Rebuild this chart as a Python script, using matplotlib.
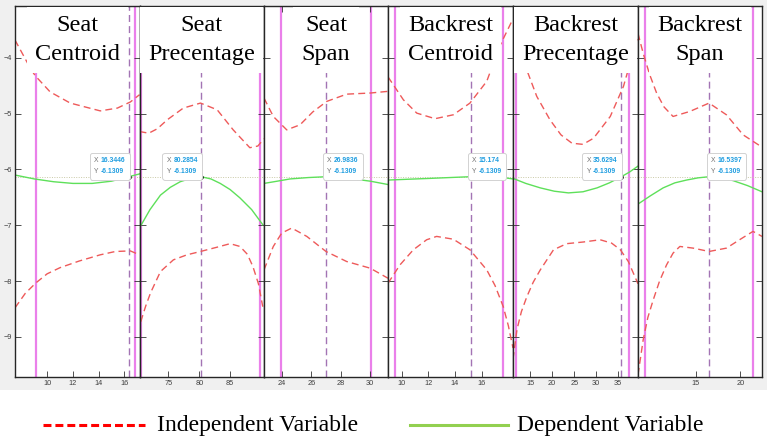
import matplotlib
matplotlib.use('Agg')
import matplotlib.pyplot as plt
from matplotlib.lines import Line2D
from matplotlib.patches import Rectangle
from matplotlib.offsetbox import TextArea, HPacker, VPacker, AnnotationBbox

# ---------------- data ----------------
titles = ["Seat\nCentroid", "Seat\nPrecentage", "Seat\nSpan",
          "Backrest\nCentroid", "Backrest\nPrecentage", "Backrest\nSpan"]
x_current = [16.3446, 80.2854, 26.9836, 15.174, 35.6294, 16.5397]
y_current = -6.1309
bound_lo = [9.15, 70.6, 23.97, 9.52, 11.8, 9.4]
bound_hi = [16.84, 89.9, 30.05, 17.62, 37.5, 21.4]
x_limits = [(7.5, 17.17), (70.3, 90.5), (22.8, 31.2), (8.97, 18.35), (11.1, 39.5), (8.6, 22.4)]
x_ticks = [[10, 12, 14, 16], [75, 80, 85], [24, 26, 28, 30], [10, 12, 14, 16],
           [15, 20, 25, 30, 35], [15, 20]]
y_ticks = [-9, -8, -7, -6, -5, -4]
y_limits = (-9.72, -3.07)
tip_side = ["left", "left", "right", "right", "left", "right"]

p1_up_x = [7.5, 8.68, 9.07, 10.23, 11.79, 14.12, 15.45, 16.46, 17.17]
p1_up_y = [-3.68, -4.18, -4.32, -4.61, -4.81, -4.95, -4.9, -4.79, -4.66]
p1_mid_x = [7.5, 9.0, 10.5, 12.0, 13.5, 15.0, 16.34, 17.17]
p1_mid_y = [-6.10, -6.17, -6.22, -6.25, -6.25, -6.21, -6.13, -6.08]
p1_lo_x = [7.5, 8.3, 9.14, 10.0, 11.0, 12.5, 14.12, 15.3, 16.46, 17.17]
p1_lo_y = [-8.48, -8.22, -8.03, -7.87, -7.76, -7.64, -7.53, -7.47, -7.46, -7.53]

p2_up_x = [70.3, 71.8, 73.2, 74.8, 77.4, 80.2, 82.9, 85.5, 88.2, 89.5, 90.5]
p2_up_y = [-5.32, -5.35, -5.27, -5.11, -4.90, -4.81, -4.93, -5.29, -5.61, -5.58, -5.45]
p2_mid_x = [70.6, 72.0, 73.7, 75.3, 76.9, 78.6, 80.3, 81.9, 83.4, 85.0, 86.6, 88.5, 90.3]
p2_mid_y = [-6.99, -6.72, -6.46, -6.32, -6.22, -6.16, -6.13, -6.17, -6.25, -6.36, -6.51, -6.72, -6.99]
p2_lo_x = [70.5, 71.3, 72.1, 73.7, 75.8, 78.0, 80.2, 83.0, 85.0, 86.6, 87.8, 88.7, 89.6, 90.3]
p2_lo_y = [-8.73, -8.45, -8.21, -7.83, -7.62, -7.53, -7.47, -7.39, -7.33, -7.38, -7.52, -7.74, -8.05, -8.46]

p3_up_x = [22.8, 23.43, 24.34, 25.24, 26.1, 27.05, 28.4, 30.0, 31.2]
p3_up_y = [-4.72, -5.05, -5.29, -5.20, -4.97, -4.78, -4.65, -4.63, -4.6]
p3_mid_x = [22.8, 23.7, 24.56, 25.8, 27.0, 28.85, 30.0, 31.2]
p3_mid_y = [-6.25, -6.21, -6.17, -6.145, -6.13, -6.17, -6.21, -6.27]
p3_lo_x = [22.8, 23.43, 24.0, 24.68, 25.7, 27.0, 28.4, 30.0, 31.2]
p3_lo_y = [-7.80, -7.38, -7.14, -7.05, -7.2, -7.47, -7.65, -7.77, -7.95]

p4_up_x = [8.97, 10.12, 11.13, 12.5, 13.87, 15.12, 16.38, 17.37, 18.35]
p4_up_y = [-4.34, -4.75, -4.99, -5.09, -5.02, -4.81, -4.42, -3.78, -3.3]
p4_mid_x = [8.97, 10.5, 12.12, 13.6, 15.12, 16.5, 17.62, 18.35]
p4_mid_y = [-6.19, -6.175, -6.16, -6.145, -6.13, -6.135, -6.145, -6.17]
p4_lo_x = [8.97, 9.87, 10.87, 11.87, 12.62, 13.87, 15.12, 16.38, 17.0, 17.62, 18.0, 18.35]
p4_lo_y = [-8.04, -7.71, -7.44, -7.26, -7.2, -7.25, -7.44, -7.80, -8.08, -8.46, -8.8, -9.2]

p5_up_x = [11.1, 12.5, 14.25, 16.5, 19.5, 22.0, 24.5, 27.0, 29.4, 33.2, 36.2, 39.2, 39.5]
p5_up_y = [-3.3, -3.75, -4.22, -4.69, -5.11, -5.38, -5.53, -5.55, -5.44, -5.05, -4.51, -3.68, -3.6]
p5_mid_x = [11.1, 14.0, 17.3, 20.5, 23.7, 27.0, 30.2, 33.0, 35.7, 37.5, 39.5]
p5_mid_y = [-6.16, -6.25, -6.33, -6.39, -6.42, -6.40, -6.33, -6.24, -6.13, -6.05, -5.94]
p5_lo_x = [11.1, 12.0, 13.0, 14.25, 15.7, 17.3, 20.3, 23.3, 27.1, 30.9, 33.5, 35.5, 37.3, 39.5]
p5_lo_y = [-9.4, -8.87, -8.55, -8.28, -8.02, -7.80, -7.44, -7.33, -7.30, -7.26, -7.32, -7.44, -7.65, -8.05]

p6_up_x = [8.6, 9.18, 9.9, 10.67, 11.5, 12.5, 14.37, 16.51, 18.44, 20.3, 22.4]
p6_up_y = [-3.56, -3.92, -4.3, -4.63, -4.88, -5.05, -4.96, -4.81, -5.02, -5.38, -5.6]
p6_mid_x = [8.6, 10.0, 11.4, 12.7, 14.0, 15.3, 16.51, 17.8, 19.18, 20.8, 22.4]
p6_mid_y = [-6.62, -6.47, -6.33, -6.24, -6.19, -6.15, -6.13, -6.15, -6.2, -6.29, -6.40]
p6_lo_x = [8.6, 9.18, 9.7, 10.29, 11.0, 11.78, 12.5, 13.26, 14.74, 16.51, 18.44, 20.0, 21.4, 22.4]
p6_lo_y = [-9.68, -9.05, -8.65, -8.34, -8.0, -7.71, -7.5, -7.38, -7.41, -7.47, -7.41, -7.25, -7.11, -7.2]

upper = [(p1_up_x, p1_up_y), (p2_up_x, p2_up_y), (p3_up_x, p3_up_y),
         (p4_up_x, p4_up_y), (p5_up_x, p5_up_y), (p6_up_x, p6_up_y)]
middle = [(p1_mid_x, p1_mid_y), (p2_mid_x, p2_mid_y), (p3_mid_x, p3_mid_y),
          (p4_mid_x, p4_mid_y), (p5_mid_x, p5_mid_y), (p6_mid_x, p6_mid_y)]
lower = [(p1_lo_x, p1_lo_y), (p2_lo_x, p2_lo_y), (p3_lo_x, p3_lo_y),
         (p4_lo_x, p4_lo_y), (p5_lo_x, p5_lo_y), (p6_lo_x, p6_lo_y)]

legend_labels = ["Independent Variable", "Dependent Variable"]

# ---------------- layout / style ----------------
W, H = 767, 447
fig = plt.figure(figsize=(W / 100, H / 100), dpi=100)
fig.patch.set_facecolor('white')
fig.add_artist(Rectangle((0, 57 / H), 1, 1 - 57 / H, transform=fig.transFigure,
                         facecolor='#f0f0f0', edgecolor='none', zorder=0))

left_px = [15, 139.5, 264, 388, 513, 638, 762]
bottom_px, top_px = 377, 6

RED = '#ee5a5a'
GREEN = '#5ee05a'
MAGENTA = '#ea80ea'
PURPLE = '#a374b4'
BLUE = '#1e9de0'
serif = ['Liberation Serif', 'DejaVu Serif']
sans = ['Liberation Sans', 'DejaVu Sans']

for i in range(6):
    l = left_px[i] / W
    w = (left_px[i + 1] - left_px[i]) / W
    b = (H - bottom_px) / H
    h = (bottom_px - top_px) / H
    ax = fig.add_axes([l, b, w, h])
    ax.set_facecolor('white')
    ax.set_xlim(*x_limits[i])
    ax.set_ylim(*y_limits)
    ax.set_xticks(x_ticks[i])
    ax.set_yticks(y_ticks)
    ax.tick_params(direction='in', length=4, width=0.6, color='#333333',
                   top=True, right=True, left=True, bottom=True,
                   labelsize=5.3, labelcolor='#404040', pad=2)
    for lab in ax.get_xticklabels() + ax.get_yticklabels():
        lab.set_family(sans)
    if i > 0:
        ax.tick_params(labelleft=False)
    for s in ax.spines.values():
        s.set_color('#262626')
        s.set_linewidth(1.0)

    ax.axvline(bound_lo[i], color=MAGENTA, lw=1.6, zorder=1)
    ax.axvline(bound_hi[i], color=MAGENTA, lw=1.6, zorder=1)
    ax.axvline(x_current[i], color=PURPLE, lw=1.0, ls=(0, (5, 3)), zorder=1.2)
    ax.axhline(y_current, color='#c9c9a6', lw=0.7, ls=(0, (1, 1.5)), zorder=1.1)

    ux, uy = upper[i]
    lx, ly = lower[i]
    mx, my = middle[i]
    ax.plot(ux, uy, color=RED, lw=1.0, ls=(0, (5, 3)), zorder=2)
    ax.plot(lx, ly, color=RED, lw=1.0, ls=(0, (5, 3)), zorder=2)
    ax.plot(mx, my, color=GREEN, lw=1.0, zorder=2.1)
    ax.plot([x_current[i]], [y_current], 'o', color='black', ms=2.2, zorder=6)

    ax.text(0.5, 1 - (40 - top_px) / (bottom_px - top_px), titles[i],
            transform=ax.transAxes, ha='center', va='center', fontsize=17.5,
            family=serif, linespacing=1.45, zorder=5,
            bbox=dict(facecolor='white', edgecolor='none', pad=6))

    # data tip
    rows = []
    for lbl, val in (("X", f"{x_current[i]:g}"), ("Y", f"{y_current:g}")):
        rows.append(HPacker(children=[
            TextArea(lbl, textprops=dict(color='#707070', fontsize=4.9, family=sans)),
            TextArea(val, textprops=dict(color=BLUE, fontsize=4.9, family=sans,
                                         fontweight='bold'))], sep=1.6, pad=0))
    box = VPacker(children=rows, sep=3.0, pad=0, align='left')
    if tip_side[i] == "left":
        align, off = (1, 0), (-2.4, 1.0)
    else:
        align, off = (0, 0), (1.0, 1.0)
    ab = AnnotationBbox(box, (x_current[i], y_current), xybox=off,
                        xycoords='data', boxcoords='offset points',
                        box_alignment=align, frameon=True, pad=0.6, fontsize=5,
                        bboxprops=dict(facecolor='white', edgecolor='#d2d2d2',
                                       lw=0.7, boxstyle='round,pad=0.6,rounding_size=0.3'),
                        zorder=7)
    ax.add_artist(ab)

# legend
ly = 1 - 425 / H
fig.add_artist(Line2D([43 / W, 145 / W], [ly, ly], transform=fig.transFigure,
                      color='#ff0000', lw=2.2, dashes=(2.6, 1.3)))
fig.text(157 / W, ly, legend_labels[0], fontsize=17, family=serif, va='center', ha='left')
fig.add_artist(Line2D([410 / W, 508 / W], [ly, ly], transform=fig.transFigure,
                      color='#92d050', lw=2.2))
fig.text(517 / W, ly, legend_labels[1], fontsize=17, family=serif, va='center', ha='left')

fig.savefig('out.png', dpi=100)
